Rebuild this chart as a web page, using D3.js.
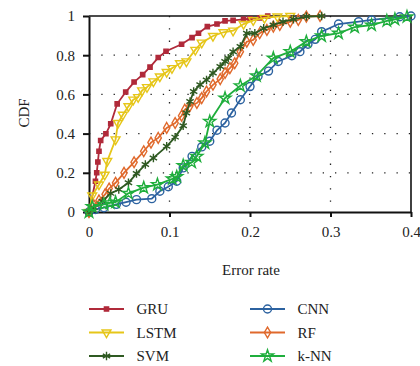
<!DOCTYPE html>
<html>
<head>
<meta charset="utf-8">
<script src="https://cdn.jsdelivr.net/npm/d3@7"></script>
<style>
  body { margin: 0; background: #fff; }
  svg text { font-family: "Liberation Serif", "DejaVu Serif", serif; fill: #222; }
</style>
</head>
<body>
<div id="chart"></div>
<script>
// axis ticks
var xTicks = [0, 0.1, 0.2, 0.3, 0.4];
var yTicks = [0, 0.2, 0.4, 0.6, 0.8, 1];
var yTickLabels = ["0", "0.2", "0.4", "0.6", "0.8", "1"];

// series: [error rate, CDF]
var gru = [[0,0],[0.008,0.157],[0.0096,0.2],[0.011,0.255],[0.0124,0.31],[0.0145,0.365],[0.021,0.399],
  [0.027,0.45],[0.035,0.552],[0.0456,0.612],[0.056,0.663],[0.0667,0.701],[0.0758,0.739],[0.086,0.788],
  [0.0957,0.82],[0.115,0.856],[0.128,0.89],[0.136,0.912],[0.147,0.946],[0.159,0.959],[0.169,0.975],
  [0.179,0.978],[0.192,0.983],[0.2,0.986],[0.212,0.99],[0.222,1]];
var lstm = [[0,0],[0.004,0.084],[0.0124,0.14],[0.0195,0.19],[0.0227,0.26],[0.033,0.37],[0.036,0.454],
  [0.042,0.496],[0.049,0.539],[0.055,0.573],[0.061,0.586],[0.066,0.62],[0.072,0.637],[0.08,0.666],
  [0.088,0.691],[0.0965,0.714],[0.103,0.734],[0.113,0.759],[0.121,0.768],[0.132,0.827],[0.14,0.864],
  [0.154,0.898],[0.167,0.917],[0.179,0.925],[0.192,0.959],[0.204,0.978],[0.218,0.99],[0.234,0.997],[0.25,1]];
var svm = [[0,0],[0.006,0.022],[0.0165,0.055],[0.027,0.095],[0.037,0.115],[0.049,0.149],[0.059,0.196],
  [0.07,0.242],[0.08,0.276],[0.0965,0.335],[0.107,0.382],[0.117,0.44],[0.121,0.505],[0.1255,0.564],
  [0.13,0.615],[0.138,0.649],[0.146,0.674],[0.154,0.709],[0.163,0.742],[0.169,0.768],[0.173,0.785],
  [0.179,0.818],[0.188,0.844],[0.196,0.912],[0.206,0.912],[0.217,0.937],[0.229,0.954],[0.241,0.971],
  [0.254,0.983],[0.27,0.997],[0.289,1]];
var cnn = [[0,0],[0.008,0.013],[0.0186,0.022],[0.034,0.039],[0.046,0.05],[0.059,0.063],[0.078,0.068],
  [0.088,0.106],[0.0985,0.129],[0.109,0.157],[0.117,0.225],[0.128,0.284],[0.14,0.332],[0.15,0.361],
  [0.159,0.417],[0.169,0.454],[0.177,0.505],[0.188,0.573],[0.2,0.64],[0.21,0.693],[0.223,0.719],
  [0.235,0.768],[0.252,0.797],[0.262,0.818],[0.272,0.856],[0.281,0.881],[0.289,0.92],[0.31,0.959],
  [0.335,0.971],[0.351,0.98],[0.386,0.996],[0.4,1]];
var rf = [[0,0],[0.006,0.034],[0.0124,0.059],[0.02,0.09],[0.025,0.12],[0.033,0.149],[0.0435,0.2],
  [0.056,0.254],[0.068,0.31],[0.077,0.354],[0.086,0.378],[0.0965,0.429],[0.107,0.454],[0.115,0.491],
  [0.119,0.522],[0.125,0.539],[0.134,0.556],[0.14,0.581],[0.146,0.615],[0.154,0.649],[0.163,0.678],
  [0.169,0.709],[0.175,0.734],[0.181,0.759],[0.188,0.818],[0.196,0.869],[0.204,0.878],[0.212,0.912],
  [0.221,0.929],[0.229,0.946],[0.237,0.954],[0.25,0.971],[0.26,0.98],[0.27,0.997],[0.287,1]];
var knn = [[0,0],[0.004,0.027],[0.0186,0.039],[0.026,0.047],[0.033,0.05],[0.049,0.095],[0.068,0.124],
  [0.085,0.14],[0.1035,0.169],[0.109,0.18],[0.117,0.237],[0.1276,0.253],[0.134,0.284],[0.144,0.352],
  [0.15,0.462],[0.169,0.581],[0.188,0.644],[0.208,0.695],[0.229,0.785],[0.25,0.818],[0.27,0.869],
  [0.289,0.898],[0.31,0.912],[0.33,0.943],[0.351,0.954],[0.37,0.975],[0.38,0.983],[0.395,0.996]];

var seriesNames = ["GRU", "LSTM", "SVM", "CNN", "RF", "k-NN"];
var seriesData = [gru, lstm, svm, cnn, rf, knn];

var width = 420, height = 366;
var margin = {top: 16, right: 9, bottom: 154, left: 89};
var w = width - margin.left - margin.right,
    h = height - margin.top - margin.bottom;

var style = {
  "GRU":  {color: "#b02a3a", symbol: d3.symbolSquare,   size: 18, fill: true,  rot: 0},
  "LSTM": {color: "#e6c619", symbol: d3.symbolTriangle, size: 34, fill: false, rot: 180},
  "SVM":  {color: "#2f5a22", symbol: d3.symbolAsterisk, size: 50, fill: false, rot: 0},
  "CNN":  {color: "#2c62a0", symbol: d3.symbolCircle,   size: 50, fill: false, rot: 0},
  "RF":   {color: "#e0692c", symbol: d3.symbolDiamond,  size: 34, fill: false, rot: 0},
  "k-NN": {color: "#1fae3c", symbol: d3.symbolStar,     size: 44, fill: false, rot: 0}
};

var svg = d3.select("#chart").append("svg").attr("width", width).attr("height", height);
var g = svg.append("g").attr("transform", "translate(" + margin.left + "," + margin.top + ")");

var x = d3.scaleLinear().domain([0, 0.4]).range([0, w]);
var y = d3.scaleLinear().domain([0, 1]).range([h, 0]);

// dotted grid
g.selectAll(".vgrid").data(xTicks.slice(1, -1)).enter().append("line")
  .attr("x1", function(d) { return x(d); }).attr("x2", function(d) { return x(d); })
  .attr("y1", 0).attr("y2", h)
  .attr("stroke", "#222").attr("stroke-width", 1.3).attr("stroke-dasharray", "1.3,11");
g.selectAll(".hgrid").data(yTicks.slice(1, -1)).enter().append("line")
  .attr("x1", 0).attr("x2", w)
  .attr("y1", function(d) { return y(d); }).attr("y2", function(d) { return y(d); })
  .attr("stroke", "#222").attr("stroke-width", 1.3).attr("stroke-dasharray", "1.3,11");

// axes
var xAxis = g.append("g").attr("transform", "translate(0," + h + ")")
  .call(d3.axisBottom(x).tickValues(xTicks).tickFormat(d3.format("")).tickSize(5).tickSizeOuter(0).tickPadding(9));
var yAxis = g.append("g")
  .call(d3.axisLeft(y).tickValues(yTicks).tickFormat(function(d, i) { return yTickLabels[i]; }).tickSize(6).tickSizeOuter(0).tickPadding(8));
[xAxis, yAxis].forEach(function(a) {
  a.select(".domain").attr("stroke", "#111").attr("stroke-width", 2);
  a.selectAll(".tick line").attr("stroke", "#111").attr("stroke-width", 2);
  a.selectAll(".tick text").attr("font-size", 15).attr("font-family", "Liberation Serif").attr("fill", "#222");
});
// box top/right
g.append("line").attr("x1", 0).attr("x2", w).attr("y1", 0).attr("y2", 0).attr("stroke", "#111").attr("stroke-width", 1.6);
g.append("line").attr("x1", w).attr("x2", w).attr("y1", 0).attr("y2", h).attr("stroke", "#111").attr("stroke-width", 1.6);

svg.append("text").attr("x", 251).attr("y", 275).attr("text-anchor", "middle")
  .attr("font-size", 15).text("Error rate");
svg.append("text").attr("transform", "translate(29,113) rotate(-90)").attr("text-anchor", "middle")
  .attr("font-size", 15).text("CDF");

var line = d3.line().x(function(d) { return x(d[0]); }).y(function(d) { return y(d[1]); });

function marker(sel, s) {
  sel.attr("d", d3.symbol().type(s.symbol).size(s.size))
    .attr("fill", s.fill ? s.color : "none")
    .attr("stroke", s.color)
    .attr("stroke-width", 1.4);
}

var drawOrder = [0, 1, 3, 4, 2, 5];
drawOrder.forEach(function(i) {
  var name = seriesNames[i], s = style[name], data = seriesData[i];
  var sg = g.append("g");
  sg.append("path").datum(data).attr("d", line).attr("fill", "none")
    .attr("stroke", s.color).attr("stroke-width", 1.8);
  sg.selectAll("path.m").data(data).enter().append("path").attr("class", "m")
    .attr("transform", function(d) { return "translate(" + x(d[0]) + "," + y(d[1]) + ") rotate(" + s.rot + ")"; })
    .call(marker, s);
});

// legend
var legend = svg.append("g");
seriesNames.forEach(function(name, i) {
  var s = style[name];
  var col = Math.floor(i / 3), row = i % 3;
  var lx = col === 0 ? 89 : 250, ly = 309 + row * 23.5;
  var lg = legend.append("g").attr("transform", "translate(" + lx + "," + ly + ")");
  lg.append("line").attr("x1", 0).attr("x2", 35).attr("y1", 0).attr("y2", 0)
    .attr("stroke", s.color).attr("stroke-width", 2);
  lg.append("path").attr("transform", "translate(17.5,0) rotate(" + s.rot + ")").call(marker, s);
  lg.append("text").attr("x", 47.5).attr("y", 5).attr("font-size", 15).text(name);
});
</script>
</body>
</html>
